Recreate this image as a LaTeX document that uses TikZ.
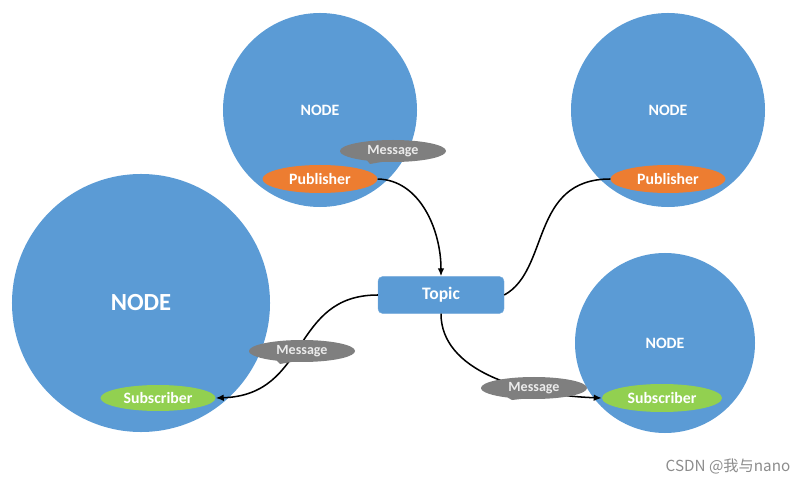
\documentclass[tikz,border=0pt]{standalone}
\usepackage{fontspec}
\setmainfont{Carlito}
\newfontfamily\cjkfont{Noto Sans CJK SC}
\usetikzlibrary{arrows.meta}
\usetikzlibrary{shapes.geometric}
\usetikzlibrary{shapes.callouts}

\definecolor{nodeblue}{HTML}{5B9BD5}
\definecolor{puborange}{HTML}{ED7D31}
\definecolor{subgreen}{HTML}{92D050}
\definecolor{msggrey}{HTML}{7F7F7F}

\begin{document}
\begin{tikzpicture} [x=0.03cm, y=-0.03cm,
  rosnode/.style={circle, fill=nodeblue, text=white, inner sep=0pt,
    font=\bfseries\fontsize{13.5}{15}\selectfont},
  pubsub/.style={ellipse, inner sep=0pt, text=white, minimum height=0.84cm,
    font=\bfseries\fontsize{13.5}{15}\selectfont},
  msg/.style={ellipse callout, fill=msggrey, text=white!92!black, inner sep=0pt,
    minimum width=3.18cm, minimum height=0.66cm, callout pointer arc=18,
    font=\bfseries\fontsize{12}{14}\selectfont},
  link/.style={black, line width=1.3pt},
  linkarrow/.style={link, -{Latex[length=2.4mm, width=2mm]}}
]

\useasboundingbox (0,0) rectangle (807,484);

% nodes
\node[rosnode, minimum size=5.82cm] (node1) at (320,110) {NODE};
\node[rosnode, minimum size=5.82cm] (node2) at (668,110) {NODE};
\node[rosnode, minimum size=7.74cm, font=\bfseries\fontsize{21}{24}\selectfont] (node3) at (141,303) {NODE};
\node[rosnode, minimum size=5.4cm] (node4) at (665,343) {NODE};

\node[pubsub, fill=puborange, minimum width=3.45cm] (pub1) at (320,179) {Publisher};
\node[pubsub, fill=puborange, minimum width=3.45cm] (pub2) at (668,179) {Publisher};
\node[pubsub, fill=subgreen, minimum width=3.45cm, minimum height=0.78cm] (sub1) at (158,398) {Subscriber};
\node[pubsub, fill=subgreen, minimum width=3.6cm] (sub2) at (662,398) {Subscriber};

\node[draw=nodeblue!85!white, fill=nodeblue, text=white, rounded corners=4pt,
  minimum width=3.78cm, minimum height=1.11cm, inner sep=0pt,
  font=\bfseries\fontsize{15}{17}\selectfont] (topic) at (441,295) {Topic};

% connections
\draw[linkarrow] (pub1.east) .. controls (420,180) and (441,230) .. (topic.north);
\draw[link] (topic.east) .. controls (550,270) and (530,179) .. (pub2.west);
\draw[linkarrow] (topic.west) .. controls (290,295) and (310,395) .. (sub1.east);
\draw[linkarrow] (topic.south) .. controls (441,370) and (520,395) .. (sub2.west);

% messages
\node[msg, callout absolute pointer={(370,164)}] (msg1) at (393,151) {Message};
\node[msg, callout absolute pointer={(280,364)}] (msg2) at (302,351) {Message};
\node[msg, callout absolute pointer={(512,400)}] (msg3) at (534,388) {Message};

\node[text=black!45, font=\cjkfont\fontsize{13}{15}\selectfont] (mark) at (728,466) {CSDN @我与nano};

\end{tikzpicture}
\end{document}
